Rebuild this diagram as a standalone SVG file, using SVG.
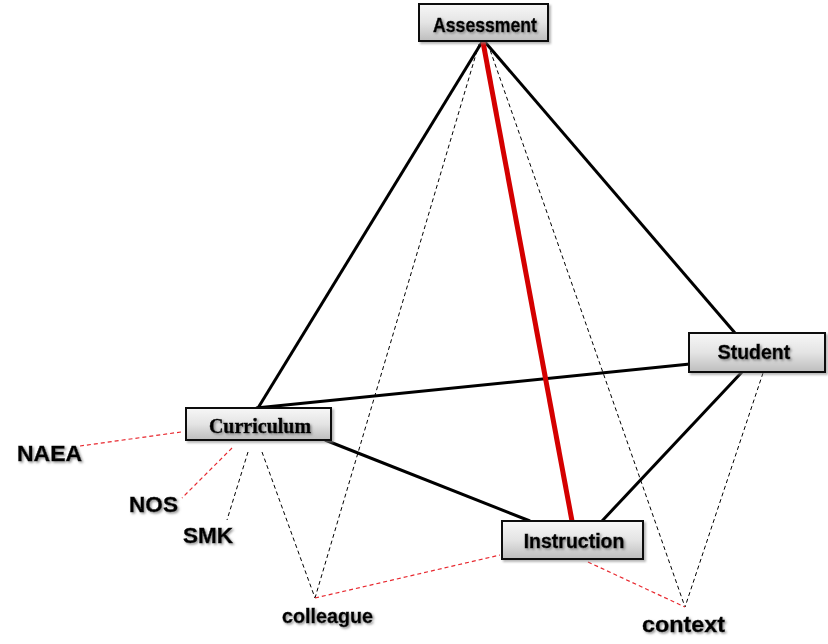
<svg xmlns="http://www.w3.org/2000/svg" width="828" height="644" viewBox="0 0 828 644">
<defs>
<linearGradient id="boxg" x1="0" y1="0" x2="0" y2="1">
<stop offset="0" stop-color="#f7f7f7"/>
<stop offset="0.5" stop-color="#e4e4e4"/>
<stop offset="1" stop-color="#bdbdbd"/>
</linearGradient>
<filter id="ts" x="-10%" y="-20%" width="130%" height="160%">
<feDropShadow dx="1.5" dy="1.5" stdDeviation="0.8" flood-color="#777" flood-opacity="0.8"/>
</filter>
<filter id="bs" x="-10%" y="-20%" width="130%" height="160%">
<feDropShadow dx="2" dy="2" stdDeviation="1" flood-color="#888" flood-opacity="0.6"/>
</filter>
</defs>
<style>
.box{fill:url(#boxg);stroke:#111;stroke-width:2;filter:url(#bs)}
.nt{font-family:"Liberation Sans",Arial,sans-serif;font-weight:bold;fill:#000;stroke:#000;stroke-width:0.5;text-anchor:middle;filter:url(#ts)}
.ser{font-family:"Liberation Serif","Times New Roman",serif}
.lbl{font-family:"Liberation Sans",Arial,sans-serif;font-weight:bold;fill:#000;stroke:#000;stroke-width:0.4;filter:url(#ts)}
.solid{stroke:#000;stroke-width:3;fill:none}
.red{stroke:#d40000;stroke-width:5;fill:none}
.dk{stroke:#000;stroke-width:1;stroke-dasharray:4 3;fill:none}
.dr{stroke:#e8282f;stroke-width:1.2;stroke-dasharray:4 3;fill:none}
</style>
<rect width="828" height="644" fill="#fff"/>
<g id="connectors">
<line class="solid" x1="482" y1="42" x2="258" y2="408"/>
<line class="solid" x1="485" y1="42" x2="735" y2="333"/>
<line class="solid" x1="256" y1="408" x2="690" y2="364"/>
<line class="solid" x1="325" y1="440" x2="530" y2="521"/>
<line class="solid" x1="742" y1="372" x2="602" y2="521"/>
<line class="dk" x1="479" y1="44" x2="315" y2="598"/>
<line class="dk" x1="488" y1="44" x2="685" y2="607"/>
<line class="dk" x1="763" y1="373" x2="685" y2="607"/>
<line class="dk" x1="262" y1="452" x2="315" y2="598"/>
<line class="dk" x1="248" y1="452" x2="227" y2="520"/>
<line class="dr" x1="232" y1="448" x2="182" y2="498"/>
<line class="dr" x1="181" y1="432" x2="80" y2="446"/>
<line class="dr" x1="315" y1="598" x2="500" y2="555"/>
<line class="dr" x1="588" y1="562" x2="685" y2="607"/>
<line class="red" x1="483" y1="42" x2="572" y2="521"/>
</g>
<g id="assessment">
<rect class="box" x="419" y="4" width="129" height="37"/>
<text class="nt" x="485" y="32" font-size="21" textLength="104" lengthAdjust="spacingAndGlyphs">Assessment</text>
</g>
<g id="student">
<rect class="box" x="689" y="333" width="136" height="39"/>
<text class="nt" x="754" y="359" font-size="19.5">Student</text>
</g>
<g id="curriculum">
<rect class="box" x="186" y="408" width="145" height="32"/>
<text class="nt ser" x="260" y="433" font-size="20">Curriculum</text>
</g>
<g id="instruction">
<rect class="box" x="502" y="521" width="141" height="38"/>
<text class="nt" x="574" y="548" font-size="19.5">Instruction</text>
</g>
<g id="naea"><text class="lbl" x="17" y="461" font-size="22" textLength="65" lengthAdjust="spacingAndGlyphs">NAEA</text></g>
<g id="nos"><text class="lbl" x="129" y="512" font-size="22" textLength="49" lengthAdjust="spacingAndGlyphs">NOS</text></g>
<g id="smk"><text class="lbl" x="183" y="543" font-size="22" textLength="50" lengthAdjust="spacingAndGlyphs">SMK</text></g>
<g id="colleague"><text class="lbl" x="282" y="623" font-size="20" textLength="91" lengthAdjust="spacingAndGlyphs">colleague</text></g>
<g id="context"><text class="lbl" x="642" y="632" font-size="22" textLength="83" lengthAdjust="spacingAndGlyphs">context</text></g>
</svg>
